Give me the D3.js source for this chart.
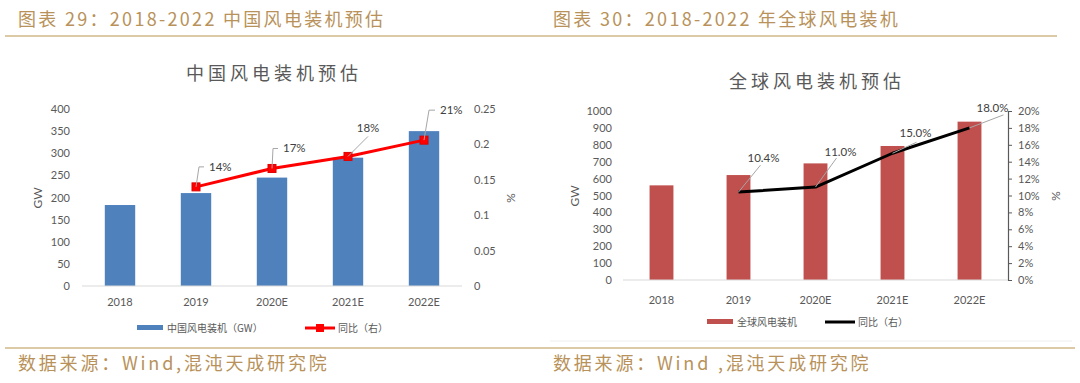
<!DOCTYPE html>
<html><head><meta charset="utf-8">
<script src="https://cdn.jsdelivr.net/npm/d3@7"></script>
<style>
html,body{margin:0;padding:0;background:#fff;}
svg{display:block;}
</style></head>
<body>
<svg id="c" width="1080" height="383"></svg>
<script>
// ---------- data ----------
const categories = ["2018", "2019", "2020E", "2021E", "2022E"];
const chinaGW = [183, 210, 245, 290, 350];
const chinaYoY = [null, 0.14, 0.166, 0.183, 0.206];
const globalGW = [560, 621, 690, 793, 937];
const globalYoY = [null, 0.104, 0.11, 0.15, 0.18];
const chinaLeftTicks = [0, 50, 100, 150, 200, 250, 300, 350, 400];
const chinaRightTicks = [0, 0.05, 0.1, 0.15, 0.2, 0.25];
const globalLeftTicks = [0, 100, 200, 300, 400, 500, 600, 700, 800, 900, 1000];
const globalRightTicks = [0, 0.02, 0.04, 0.06, 0.08, 0.1, 0.12, 0.14, 0.16, 0.18, 0.2];

const header1 = "图表 29：2018-2022 中国风电装机预估";
const header2 = "图表 30：2018-2022 年全球风电装机";
const title1 = "中国风电装机预估";
const title2 = "全球风电装机预估";
const legend1 = ["中国风电装机（GW）", "同比（右）"];
const legend2 = ["全球风电装机", "同比（右）"];
const source1 = "数据来源：Wind,混沌天成研究院";
const source2 = "数据来源：Wind ,混沌天成研究院";

// ---------- styles ----------
const gold = "#b8925a";
const ruleCol = "#dcc9a6";
const axisText = "#595959";
const tickFont = "Lato, 'Liberation Sans', sans-serif";
const cjk = "'Noto Sans CJK SC', sans-serif";

const svg = d3.select("#c");
svg.append("rect").attr("width", 1080).attr("height", 383).attr("fill", "#fff");

// headers & footers
function header(x, text) {
  svg.append("text").attr("x", x).attr("y", 26).text(text)
    .attr("font-family", cjk).attr("font-size", 18).attr("letter-spacing", 2.3)
    .attr("fill", gold);
}
header(18, header1);
header(553, header2);
svg.append("line").attr("x1", 5).attr("x2", 1057).attr("y1", 36).attr("y2", 36)
  .attr("stroke", ruleCol).attr("stroke-width", 2);
svg.append("line").attr("x1", 550).attr("x2", 1072).attr("y1", 341).attr("y2", 341)
  .attr("stroke", "#eeeeee").attr("stroke-width", 1);
svg.append("line").attr("x1", 5).attr("x2", 1075).attr("y1", 348).attr("y2", 348)
  .attr("stroke", ruleCol).attr("stroke-width", 2);
function footer(x, text) {
  svg.append("text").attr("x", x).attr("y", 370).text(text)
    .attr("font-family", cjk).attr("font-size", 18).attr("letter-spacing", 2.8)
    .attr("fill", gold);
}
footer(18, source1);
footer(553, source2);

// ---------- chart builder ----------
function chart(cfg) {
  const g = svg.append("g");
  const x = d3.scaleBand().domain(categories).range([cfg.x0, cfg.x1])
    .paddingInner(cfg.padIn).paddingOuter(cfg.padOut);
  const yL = d3.scaleLinear().domain(cfg.yLdom).range([cfg.yBottom, cfg.yTop]);
  const yR = d3.scaleLinear().domain(cfg.yRdom).range([cfg.yBottom, cfg.yTop]);

  // title
  g.append("text").attr("x", cfg.titleX).attr("y", cfg.titleY).attr("text-anchor", "middle")
    .attr("font-family", cjk).attr("font-size", 18).attr("letter-spacing", 4)
    .attr("fill", "#595959").text(cfg.title);

  // left axis labels
  const la = g.append("g").attr("transform", `translate(${cfg.x0},0)`)
    .call(d3.axisLeft(yL).tickValues(cfg.leftTicks).tickFormat(d3.format("d"))
      .tickSize(0).tickPadding(cfg.leftPad));
  la.select(".domain").remove();
  la.selectAll("text").attr("font-family", tickFont).attr("font-size", 11).attr("fill", axisText);

  // right axis
  const ra = g.append("g").attr("transform", `translate(${cfg.x1},0)`)
    .call(d3.axisRight(yR).tickValues(cfg.rightTicks).tickFormat(cfg.rightFmt)
      .tickSize(cfg.rightTickSize).tickPadding(cfg.rightPad));
  if (cfg.rightLine) {
    ra.select(".domain").attr("stroke", "#595959").attr("stroke-width", 1.2);
    ra.selectAll("line").attr("stroke", "#595959");
  } else {
    ra.select(".domain").remove();
  }
  ra.selectAll("text").attr("font-family", tickFont).attr("font-size", 11).attr("fill", axisText);

  // bars
  g.selectAll("rect.bar").data(cfg.bars).join("rect").attr("class", "bar")
    .attr("x", (d, i) => x(categories[i])).attr("width", x.bandwidth())
    .attr("y", d => yL(d)).attr("height", d => yL(0) - yL(d))
    .attr("fill", cfg.barColor);

  // baseline
  g.append("line").attr("x1", cfg.x0).attr("x2", cfg.x1).attr("y1", yL(0)).attr("y2", yL(0))
    .attr("stroke", "#d9d9d9").attr("stroke-width", 1);

  // x axis labels
  const xa = g.append("g").attr("transform", `translate(0,${cfg.yBottom})`)
    .call(d3.axisBottom(x).tickSize(0).tickPadding(cfg.xPad));
  xa.select(".domain").remove();
  xa.selectAll("text").attr("font-family", tickFont).attr("font-size", 11).attr("fill", axisText);

  // axis titles
  g.append("text").attr("transform", `translate(${cfg.gwX},${cfg.axTitleY}) rotate(-90)`)
    .attr("text-anchor", "middle").attr("font-family", tickFont).attr("font-size", 12)
    .attr("fill", axisText).text("GW");
  g.append("text").attr("transform", `translate(${cfg.pctX},${cfg.axTitleY}) rotate(90)`)
    .attr("text-anchor", "middle").attr("font-family", tickFont).attr("font-size", 12)
    .attr("fill", axisText).text("%");

  // line
  const pts = cfg.yoy.map((v, i) => ({ v, c: categories[i] })).filter(d => d.v != null);
  const line = d3.line().x(d => x(d.c) + x.bandwidth() / 2).y(d => yR(d.v));
  g.append("path").datum(pts).attr("d", line).attr("fill", "none")
    .attr("stroke", cfg.lineColor).attr("stroke-width", 3).attr("stroke-linejoin", "round");
  if (cfg.markers) {
    g.selectAll("rect.mk").data(pts).join("rect").attr("class", "mk")
      .attr("x", d => x(d.c) + x.bandwidth() / 2 - 4).attr("y", d => yR(d.v) - 4)
      .attr("width", 8).attr("height", 8).attr("fill", "#ff0000").attr("stroke", "#e00000");
  }
  // data labels with leader lines
  pts.forEach((d, i) => {
    const px = x(d.c) + x.bandwidth() / 2, py = yR(d.v);
    const o = cfg.labelOff[i];
    g.append("path").attr("d", d3.line()(o.path.map(p => [px + p[0], py + p[1]])))
      .attr("fill", "none").attr("stroke", "#a6a6a6").attr("stroke-width", 1);
    g.append("text").attr("x", px + o.tx).attr("y", py + o.ty).attr("text-anchor", o.anchor)
      .attr("font-family", tickFont).attr("font-size", 11.5).attr("fill", "#404040")
      .text(cfg.labelFmt(d.v));
  });

  // legend
  const lg = g.append("g").attr("transform", `translate(0,${cfg.legY})`);
  lg.append("rect").attr("x", cfg.leg[0]).attr("y", -3).attr("width", 26).attr("height", 5)
    .attr("fill", cfg.barColor);
  lg.append("text").attr("x", cfg.leg[0] + 30).attr("y", 3.5).attr("font-family", cjk)
    .attr("font-size", 10).attr("fill", "#595959").text(cfg.legendText[0]);
  lg.append("line").attr("x1", cfg.leg[1]).attr("x2", cfg.leg[1] + 30).attr("y1", 0).attr("y2", 0)
    .attr("stroke", cfg.lineColor).attr("stroke-width", 3);
  if (cfg.markers) {
    lg.append("rect").attr("x", cfg.leg[1] + 11).attr("y", -4).attr("width", 8).attr("height", 8)
      .attr("fill", "#ff0000");
  }
  lg.append("text").attr("x", cfg.leg[1] + 33).attr("y", 3.5).attr("font-family", cjk)
    .attr("font-size", 10).attr("fill", "#595959").text(cfg.legendText[1]);
}

chart({
  x0: 82, x1: 462, padIn: 0.6, padOut: 0.3,
  yBottom: 286, yTop: 109, yLdom: [0, 400], yRdom: [0, 0.25],
  leftTicks: chinaLeftTicks, rightTicks: chinaRightTicks,
  rightFmt: d3.format(""), rightTickSize: 0, rightPad: 12, rightLine: false, leftPad: 12,
  bars: chinaGW, yoy: chinaYoY, barColor: "#4f81bd", lineColor: "#ff0000", markers: true,
  title: title1, titleX: 274, titleY: 80,
  gwX: 42, pctX: 507, axTitleY: 198, xPad: 12,
  labelFmt: d3.format(".0%"),
  labelOff: [
    { path: [[0, 0], [3, -20], [8, -20]], tx: 13, ty: -16, anchor: "start" },
    { path: [[0, 0], [1, -20], [6, -20]], tx: 11, ty: -16, anchor: "start" },
    { path: [[0, 0], [20, -20]], tx: 20, ty: -24, anchor: "middle" },
    { path: [[0, 0], [5, -30], [11, -30]], tx: 16, ty: -26, anchor: "start" }
  ],
  legY: 328, leg: [137, 305], legendText: legend1
});

chart({
  x0: 623, x1: 1008, padIn: 0.69, padOut: 0.345,
  yBottom: 280, yTop: 111, yLdom: [0, 1000], yRdom: [0, 0.2],
  leftTicks: globalLeftTicks, rightTicks: globalRightTicks,
  rightFmt: d3.format(".0%"), rightTickSize: 4, rightPad: 6, rightLine: true, leftPad: 11,
  bars: globalGW, yoy: globalYoY, barColor: "#c0504d", lineColor: "#000000", markers: false,
  title: title2, titleX: 817, titleY: 88,
  gwX: 579, pctX: 1052, axTitleY: 196, xPad: 16,
  labelFmt: d3.format(".1%"),
  labelOff: [
    { path: [[0, 0], [22, -27]], tx: 25, ty: -30, anchor: "middle" },
    { path: [[0, 0], [21, -29]], tx: 25, ty: -31, anchor: "middle" },
    { path: [[0, 0], [24, -11]], tx: 23, ty: -16, anchor: "middle" },
    { path: [[0, 0], [34, -13]], tx: 23, ty: -16, anchor: "middle" }
  ],
  legY: 322, leg: [707, 825], legendText: legend2
});
</script>
</body></html>
